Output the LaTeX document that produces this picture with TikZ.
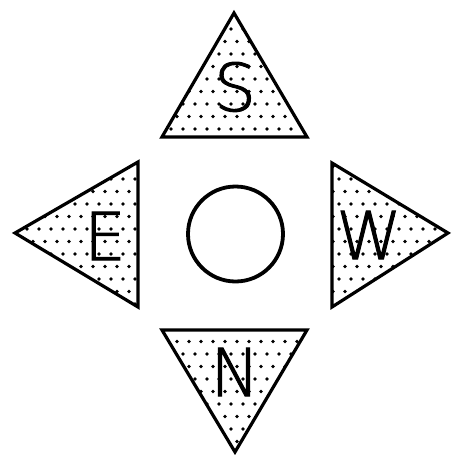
\documentclass[tikz,border=0pt]{standalone}
\usepackage{fontspec}
\font\letterfont="DejaVu Sans ExtraLight:embolden=1.5" at 66pt
\begin{document}
\begin{tikzpicture}[x=1pt,y=-1pt,
  tri/.style={line width=3.2pt,line join=miter},
  letter/.style={inner sep=0pt,font=\letterfont},
  dotfill/.style={fill=black}]
\useasboundingbox (0,0) rectangle (451,455);
% triangles clip + dots
\foreach \P in {
  {(234,13) -- (307,137) -- (162,137) -- cycle},
  {(15,233) -- (138,162) -- (138,307) -- cycle},
  {(448,233) -- (332,163) -- (332,307) -- cycle},
  {(162,330) -- (307,330) -- (235,452) -- cycle}}{
  \begin{scope}
    \clip \P;
    \foreach \j in {0,...,37}{
      \foreach \i in {0,...,38}{
        \pgfmathsetmacro\xx{\i*12+mod(\j,2)*6+3}
        \pgfmathsetmacro\yy{\j*12.5+4}
        \fill[dotfill] (\xx,\yy) circle (1.9);
      }
    }
  \end{scope}
  \draw[tri] \P;
}
\node[letter] (S) at (235,87) {S};
\node[letter] (E) at (105,236) {E};
\node[letter] (W) at (369,235) {W};
\node[letter] (N) at (235,372) {N};
\draw[line width=3.8pt] (235.5,234) circle (47.5);
\end{tikzpicture}
\end{document}
